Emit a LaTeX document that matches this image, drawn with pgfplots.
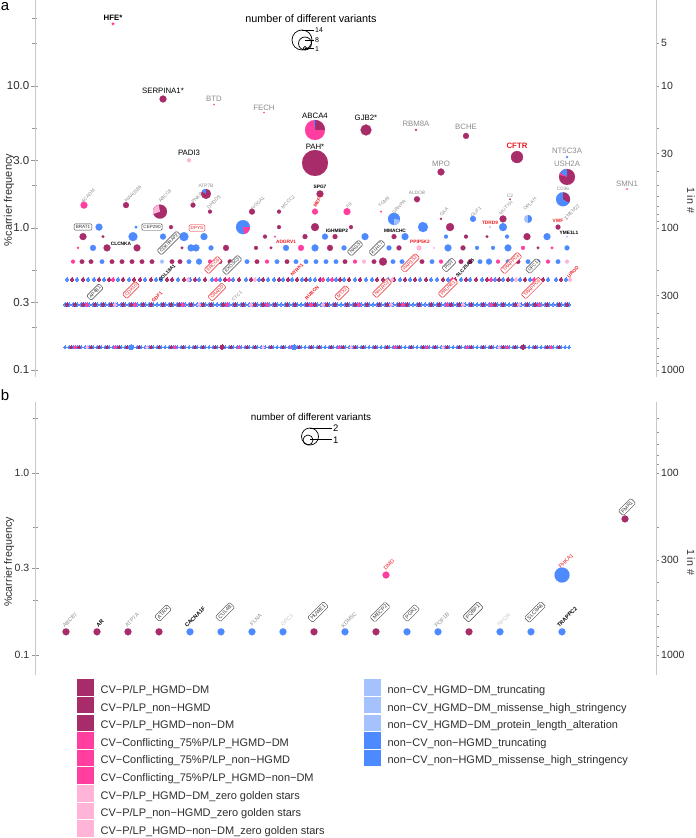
\documentclass[border=0pt]{standalone}
\usepackage{fontspec}
\setmainfont{Liberation Sans}
\usepackage{pgfplots}
\pgfplotsset{compat=1.18}
\usepackage{pgfplotstable}

\definecolor{dmc}{RGB}{168,44,106}
\definecolor{pkc}{RGB}{255,62,160}
\definecolor{lpc}{RGB}{255,180,216}
\definecolor{lbc}{RGB}{165,194,255}
\definecolor{blc}{RGB}{78,138,255}
\definecolor{axgray}{RGB}{200,200,200}
\definecolor{tkgray}{RGB}{150,150,150}
\definecolor{txtgray}{RGB}{45,45,45}
\definecolor{lblgray}{RGB}{140,140,140}
\definecolor{lgtgray}{RGB}{200,200,200}
\definecolor{lblred}{RGB}{236,28,36}

% pie-slice marks (start angle, end angle)
\newcommand\defwedge[3]{\pgfdeclareplotmark{#1}{%
  \pgfpathmoveto{\pgfpointorigin}%
  \pgfpathlineto{\pgfpointpolar{#2}{\pgfplotmarksize}}%
  \pgfpatharc{#2}{#3}{\pgfplotmarksize}%
  \pgfpathclose\pgfusepathqfill}}
\defwedge{wA}{0}{90}
\defwedge{wAb}{90}{97}
\defwedge{wU}{90}{150}
\defwedge{wUp}{150}{165}
\defwedge{wC}{-30}{90}
\defwedge{wS}{100}{200}
\defwedge{wT}{90}{150}
\defwedge{wK}{-80}{0}
\defwedge{wG}{-90}{-10}
\defwedge{wO}{-90}{90}

\pgfplotstableread{
x y r
163 8.1 3.5
315 2.87 13
366 4.9 5.5
416 4.9 1
466 4.45 3
517 3.16 6
567 2.29 8
441 2.48 3.5
206 1.739 5
320 1.739 3.5
417 1.594 3
510 1.594 0.8
126 1.449 3
193 1.449 2.5
160 1.304 7
210 1.304 2
252 1.304 3
279 1.304 2
441 1.159 1.2
503 1.159 3.5
171 1.0145 2
279 1.0145 2
315 1.0145 4
351 1.0145 2
450 1.0145 4
558 1.0145 2.5
83 0.8696 3.5
103 0.8696 1.5
265 0.8696 2
305 0.8696 2.5
335 0.8696 2.5
394 0.8696 2.5
466 0.8696 2
487 0.8696 1.5
527 0.8696 3.5
107 0.7246 3.5
137 0.7246 3.5
182 0.7246 1.5
226 0.7246 3
256 0.7246 2
271 0.7246 1.5
330 0.7246 3
399 0.7246 2.5
463 0.7246 2.5
538 0.7246 1.5
82 0.5797 2.3
91 0.5797 2.3
112 0.5797 2.3
122 0.5797 2.3
132 0.5797 2.3
142 0.5797 2.3
152 0.5797 2.3
172 0.5797 2.3
180 0.5797 2.3
220 0.5797 2.3
230 0.5797 2.3
257 0.5797 2.3
287 0.5797 2.3
345 0.5797 2.3
374 0.5797 2.3
383 0.5797 4
422 0.5797 2.3
461 0.5797 2.3
470 0.5797 2.3
518 0.5797 2.3
}\dmA
\pgfplotstableread{
x y r
113 27.4 1.5
214 7.4 0.8
264 6.5 0.8
315 4.9 10
627 1.88 0.8
84 1.449 3.5
315 1.304 3
347 1.304 3.5
381 1.304 1
275 0.8696 1
78 0.7246 1.2
301 0.7246 3
355 0.7246 1.5
523 0.7246 2
552 0.7246 1.5
73 0.5797 2
210 0.5797 2
267 0.5797 2
355 0.5797 2
441 0.5797 2
498 0.5797 2
548 0.5797 2
}\pkA
\pgfplotstableread{
x y r
189 3.0 2
567 1.159 1.2
419 0.7246 2.5
434 0.7246 1
364 0.5797 2
567 0.5797 2
}\lpA
\pgfplotstableread{
x y r
528 1.159 4
490 1.0145 1
567 0.8696 1
162 0.5797 2
}\lbA
\pgfplotstableread{
x y r
567 3.16 1.2
563 1.594 7
394 1.159 6
473 1.159 3
99 1.0145 3.5
136 1.0145 1.5
243 1.0145 7
423 1.0145 5
503 1.0145 4
133 0.8696 4.5
163 0.8696 3
184 0.8696 4.5
204 0.8696 3.5
325 0.8696 3
365 0.8696 3.5
405 0.8696 3.5
446 0.8696 2
507 0.8696 2
547 0.8696 3.5
93 0.7246 3
191 0.7246 3.5
196 0.7246 3.5
211 0.7246 2.5
286 0.7246 3
315 0.7246 3.5
344 0.7246 2.5
389 0.7246 2.5
448 0.7246 3.5
477 0.7246 2
493 0.7246 2
508 0.7246 3.5
567 0.7246 2.5
102 0.5797 2.3
189 0.5797 2.3
199 0.5797 3
247 0.5797 2.3
277 0.5797 2.3
296 0.5797 2.3
306 0.5797 2.3
316 0.5797 2.3
326 0.5797 2.3
336 0.5797 2.3
393 0.5797 2.3
402 0.5797 2.3
412 0.5797 2.3
432 0.5797 2.3
450 0.5797 2.3
480 0.5797 2.3
489 0.5797 3
508 0.5797 2.3
528 0.5797 2.3
538 0.5797 2.3
558 0.5797 2.3
}\blA
\pgfplotstableread{
x y r
66 0.134 3.5
97 0.134 3.5
128 0.134 3.5
159 0.134 3.5
314 0.134 3.5
376 0.134 3.5
469 0.134 3.5
625 0.559 3.5
}\dmB
\pgfplotstableread{
x y r
190 0.134 3.5
221 0.134 3.5
252 0.134 3.5
283 0.134 3.5
345 0.134 3.5
407 0.134 3.5
438 0.134 3.5
500 0.134 3.5
531 0.134 3.5
562 0.134 3.5
562 0.275 7.5
}\blB
\pgfplotstableread{
x y r
386 0.275 3.5
}\pkB

\pgfplotsset{
  mydots/.style={only marks, mark=*, mark size=#1, mark options={line width=0pt}},
  mybub/.style={scatter, only marks, mark=*,
     scatter/use mapped color={draw=#1,fill=#1},
     visualization depends on={\thisrow{r}\as\rr},
     scatter/@pre marker code/.append style={/tikz/mark size=\rr pt},
     mark options={line width=0.1pt}},
}
\tikzset{
  tl/.style={font=\fontsize{7.8}{8}\selectfont, inner sep=0pt, text=black},
  tlb/.style={font=\fontsize{7.8}{8}\selectfont\bfseries, inner sep=0pt, text=black},
  sl/.style={font=\fontsize{4.8}{5}\selectfont, inner sep=0pt, text=lblgray},
  slb/.style={font=\fontsize{4.8}{5}\selectfont\bfseries, inner sep=0pt, text=black},
  slr/.style={font=\fontsize{4.8}{5}\selectfont\bfseries, inner sep=0pt, text=lblred},
  bx/.style={font=\fontsize{4.6}{5}\selectfont, draw=black!75, rounded corners=1.2pt, inner sep=1.6pt, line width=0.45pt, text=black!80, fill=white},
  rbx/.style={font=\fontsize{4.6}{5}\selectfont, draw=lblred, rounded corners=1.2pt, inner sep=1.6pt, line width=0.45pt, text=lblred, fill=white},
  bl5/.style={font=\fontsize{5.5}{6}\selectfont, inner sep=0pt, text=lblgray},
  bb5/.style={font=\fontsize{5.5}{6}\selectfont\bfseries, inner sep=0pt, text=black},
  bx5/.style={font=\fontsize{5.2}{6}\selectfont, draw=black!75, rounded corners=1.3pt, inner sep=1.8pt, line width=0.45pt, text=black!80},
}

\begin{document}
\begin{tikzpicture}
\useasboundingbox (0,0) rectangle (696pt,838pt);

% ================= PANEL A =================
\begin{axis}[scale only axis, anchor=south west, width=621pt, xmin=35, xmax=656,
  at={(35pt,461pt)}, height=377pt, ymode=log, ymin=0.0893, ymax=40.33,
  axis x line=none, axis y line*=left,
  axis line style={draw=axgray, line width=0.8pt},
  tick style={draw=tkgray, line width=0.6pt}, tick align=center,
  major tick length=7pt, minor tick length=5pt,
  ytick={0.1,0.3,1,3,10}, yticklabels={0.1,0.3,1.0,3.0,10.0},
  minor ytick={0.2,0.5,2,5,20,30},
  yticklabel style={text=txtgray, inner sep=0pt, xshift=-2pt, font=\fontsize{11.5}{12}\selectfont}]
\addplot[mydots=1.5pt, blc] coordinates {(65,0.145)(69,0.145)(73,0.145)(77,0.145)(81,0.145)(85,0.145)(89,0.145)(93,0.145)(97,0.145)(101,0.145)(105,0.145)(109,0.145)(113,0.145)(117,0.145)(121,0.145)(125,0.145)(129,0.145)(133,0.145)(137,0.145)(141,0.145)(145,0.145)(149,0.145)(153,0.145)(157,0.145)(161,0.145)(165,0.145)(169,0.145)(173,0.145)(177,0.145)(181,0.145)(185,0.145)(189,0.145)(193,0.145)(197,0.145)(201,0.145)(205,0.145)(209,0.145)(213,0.145)(217,0.145)(221,0.145)(225,0.145)(229,0.145)(233,0.145)(237,0.145)(241,0.145)(245,0.145)(249,0.145)(253,0.145)(257,0.145)(261,0.145)(265,0.145)(269,0.145)(273,0.145)(277,0.145)(281,0.145)(285,0.145)(289,0.145)(293,0.145)(297,0.145)(301,0.145)(305,0.145)(309,0.145)(313,0.145)(317,0.145)(321,0.145)(325,0.145)(329,0.145)(333,0.145)(337,0.145)(341,0.145)(345,0.145)(349,0.145)(353,0.145)(357,0.145)(361,0.145)(365,0.145)(369,0.145)(373,0.145)(377,0.145)(381,0.145)(385,0.145)(389,0.145)(393,0.145)(397,0.145)(401,0.145)(405,0.145)(409,0.145)(413,0.145)(417,0.145)(421,0.145)(425,0.145)(429,0.145)(433,0.145)(437,0.145)(441,0.145)(445,0.145)(449,0.145)(453,0.145)(457,0.145)(461,0.145)(465,0.145)(469,0.145)(473,0.145)(477,0.145)(481,0.145)(485,0.145)(489,0.145)(493,0.145)(497,0.145)(501,0.145)(505,0.145)(509,0.145)(513,0.145)(517,0.145)(521,0.145)(525,0.145)(529,0.145)(533,0.145)(537,0.145)(541,0.145)(545,0.145)(549,0.145)(553,0.145)(557,0.145)(561,0.145)(565,0.145)(569,0.145)};
\addplot[mydots=1.5pt, dmc] coordinates {(71,0.145)(79,0.145)(91,0.145)(99,0.145)(107,0.145)(119,0.145)(127,0.145)(139,0.145)(151,0.145)(159,0.145)(171,0.145)(183,0.145)(195,0.145)(203,0.145)(215,0.145)(231,0.145)(247,0.145)(255,0.145)(271,0.145)(283,0.145)(299,0.145)(311,0.145)(319,0.145)(331,0.145)(343,0.145)(355,0.145)(363,0.145)(375,0.145)(387,0.145)(399,0.145)(411,0.145)(423,0.145)(435,0.145)(447,0.145)(459,0.145)(471,0.145)(483,0.145)(491,0.145)(503,0.145)(515,0.145)(535,0.145)(547,0.145)(559,0.145)};
\addplot[mydots=1.5pt, pkc] coordinates {(75,0.145)(115,0.145)(175,0.145)(239,0.145)(291,0.145)(339,0.145)(395,0.145)(427,0.145)(467,0.145)(507,0.145)(551,0.145)};
\addplot[mydots=1.5pt, lpc] coordinates {(87,0.145)(147,0.145)(263,0.145)(351,0.145)(443,0.145)(499,0.145)};
\addplot[mydots=2.5pt, blc] coordinates {(131,0.145)(294,0.145)};
\addplot[mydots=2.2pt, dmc] coordinates {(222,0.145)(523,0.145)};
\addplot[mydots=1.7pt, blc] coordinates {(65,0.29)(69,0.29)(73,0.29)(77,0.29)(81,0.29)(85,0.29)(89,0.29)(93,0.29)(97,0.29)(101,0.29)(105,0.29)(109,0.29)(113,0.29)(117,0.29)(121,0.29)(125,0.29)(129,0.29)(133,0.29)(137,0.29)(141,0.29)(145,0.29)(149,0.29)(153,0.29)(157,0.29)(161,0.29)(165,0.29)(169,0.29)(173,0.29)(177,0.29)(181,0.29)(185,0.29)(189,0.29)(193,0.29)(197,0.29)(201,0.29)(205,0.29)(209,0.29)(213,0.29)(217,0.29)(221,0.29)(225,0.29)(229,0.29)(233,0.29)(237,0.29)(241,0.29)(245,0.29)(249,0.29)(253,0.29)(257,0.29)(261,0.29)(265,0.29)(269,0.29)(273,0.29)(277,0.29)(281,0.29)(285,0.29)(289,0.29)(293,0.29)(297,0.29)(301,0.29)(305,0.29)(309,0.29)(313,0.29)(317,0.29)(321,0.29)(325,0.29)(329,0.29)(333,0.29)(337,0.29)(341,0.29)(345,0.29)(349,0.29)(353,0.29)(357,0.29)(361,0.29)(365,0.29)(369,0.29)(373,0.29)(377,0.29)(381,0.29)(385,0.29)(389,0.29)(393,0.29)(397,0.29)(401,0.29)(405,0.29)(409,0.29)(413,0.29)(417,0.29)(421,0.29)(425,0.29)(429,0.29)(433,0.29)(437,0.29)(441,0.29)(445,0.29)(449,0.29)(453,0.29)(457,0.29)(461,0.29)(465,0.29)(469,0.29)(473,0.29)(477,0.29)(481,0.29)(485,0.29)(489,0.29)(493,0.29)(497,0.29)(501,0.29)(505,0.29)(509,0.29)(513,0.29)(517,0.29)(521,0.29)(525,0.29)(529,0.29)(533,0.29)(537,0.29)(541,0.29)(545,0.29)(549,0.29)(553,0.29)(557,0.29)(561,0.29)(565,0.29)(569,0.29)};
\addplot[mydots=1.7pt, dmc] coordinates {(67,0.29)(75,0.29)(83,0.29)(95,0.29)(103,0.29)(111,0.29)(123,0.29)(131,0.29)(143,0.29)(151,0.29)(163,0.29)(171,0.29)(179,0.29)(191,0.29)(203,0.29)(211,0.29)(223,0.29)(235,0.29)(243,0.29)(255,0.29)(263,0.29)(275,0.29)(287,0.29)(295,0.29)(307,0.29)(315,0.29)(327,0.29)(335,0.29)(347,0.29)(355,0.29)(367,0.29)(379,0.29)(387,0.29)(399,0.29)(407,0.29)(419,0.29)(431,0.29)(439,0.29)(451,0.29)(459,0.29)(471,0.29)(483,0.29)(495,0.29)(503,0.29)(515,0.29)(527,0.29)(535,0.29)(547,0.29)(559,0.29)(567,0.29)};
\addplot[mydots=1.7pt, pkc] coordinates {(87,0.29)(135,0.29)(183,0.29)(227,0.29)(267,0.29)(311,0.29)(359,0.29)(403,0.29)(447,0.29)(491,0.29)(539,0.29)};
\addplot[mydots=1.7pt, lpc] coordinates {(115,0.29)(199,0.29)(251,0.29)(323,0.29)(391,0.29)(463,0.29)(519,0.29)};
\addplot[mydots=1.9pt, blc] coordinates {(67,0.4348)(77,0.4348)(88,0.4348)(94,0.4348)(104,0.4348)(118,0.4348)(129,0.4348)(145,0.4348)(156,0.4348)(161,0.4348)(178,0.4348)(190,0.4348)(199,0.4348)(212,0.4348)(220,0.4348)(233,0.4348)(246,0.4348)(259,0.4348)(268,0.4348)(274,0.4348)(283,0.4348)(292,0.4348)(302,0.4348)(310,0.4348)(315,0.4348)(328,0.4348)(336,0.4348)(344,0.4348)(355,0.4348)(366,0.4348)(372,0.4348)(388,0.4348)(400,0.4348)(410,0.4348)(420,0.4348)(431,0.4348)(437,0.4348)(448,0.4348)(461,0.4348)(470,0.4348)(482,0.4348)(495,0.4348)(503,0.4348)(512,0.4348)(520,0.4348)(530,0.4348)(538,0.4348)(548,0.4348)(556,0.4348)(566,0.4348)};
\addplot[mydots=1.9pt, dmc] coordinates {(72,0.4348)(83,0.4348)(99,0.4348)(109,0.4348)(123,0.4348)(134,0.4348)(140,0.4348)(151,0.4348)(167,0.4348)(172,0.4348)(184,0.4348)(195,0.4348)(205,0.4348)(225,0.4348)(239,0.4348)(251,0.4348)(263,0.4348)(279,0.4348)(288,0.4348)(297,0.4348)(306,0.4348)(320,0.4348)(340,0.4348)(349,0.4348)(360,0.4348)(377,0.4348)(383,0.4348)(394,0.4348)(405,0.4348)(415,0.4348)(426,0.4348)(443,0.4348)(455,0.4348)(466,0.4348)(476,0.4348)(487,0.4348)(499,0.4348)(508,0.4348)(525,0.4348)(543,0.4348)(561,0.4348)};
\addplot[mydots=1.9pt, pkc] coordinates {(113,0.4348)(216,0.4348)(229,0.4348)(323,0.4348)(332,0.4348)(452,0.4348)(491,0.4348)(534,0.4348)};
\addplot[mydots=1.9pt, lpc] coordinates {(188,0.4348)(255,0.4348)(392,0.4348)(516,0.4348)(570,0.4348)};
\addplot[mybub=blc] table[x=x,y=y] {\blA};
\addplot[mybub=lbc] table[x=x,y=y] {\lbA};
\addplot[mybub=dmc] table[x=x,y=y] {\dmA};
\addplot[mybub=pkc] table[x=x,y=y] {\pkA};
\addplot[mybub=lpc] table[x=x,y=y] {\lpA};
% second slices of the larger pies
\addplot[only marks, mark=wA, mark size=10pt, dmc] coordinates {(315,4.9)};
\addplot[only marks, mark=wAb, mark size=10pt, blc] coordinates {(315,4.9)};
\addplot[only marks, mark=wU, mark size=8pt, blc] coordinates {(567,2.29)};
\addplot[only marks, mark=wUp, mark size=8pt, pkc] coordinates {(567,2.29)};
\addplot[only marks, mark=wC, mark size=7pt, dmc] coordinates {(563,1.594)};
\addplot[only marks, mark=wS, mark size=7pt, lpc] coordinates {(160,1.304)};
\addplot[only marks, mark=wT, mark size=5pt, blc] coordinates {(206,1.739)};
\addplot[only marks, mark=wK, mark size=7pt, pkc] coordinates {(243,1.0145)};
\addplot[only marks, mark=wG, mark size=6pt, lbc] coordinates {(394,1.159)};
\addplot[only marks, mark=wO, mark size=4pt, blc] coordinates {(528,1.159)};
\addplot[only marks, mark=wT, mark size=5pt, blc] coordinates {(423,1.0145)};
\addplot[only marks, mark=wC, mark size=4pt, dmc] coordinates {(450,1.0145)};
\end{axis}

% right scale of panel a (1 in #)
\begin{axis}[scale only axis, anchor=south west, width=621pt, xmin=35, xmax=656,
  at={(35pt,461pt)}, height=377pt, ymode=log, y dir=reverse, ymin=2.48, ymax=1120,
  axis x line=none, axis y line*=right,
  axis line style={draw=axgray, line width=0.8pt},
  tick style={draw=tkgray, line width=0.6pt}, tick align=outside,
  major tick length=3pt, minor tick length=3pt,
  ytick={5,10,30,100,300,1000}, yticklabels={5,10,30,100,300,1000},
  minor ytick={20,40,50,60,70,80,90,200,400,500,600,700,800,900},
  yticklabel style={text=txtgray, inner sep=0pt, xshift=2pt, font=\fontsize{10.5}{11}\selectfont}]
\addplot[draw=none] coordinates {(40,10)};
\end{axis}

% pixel-coordinate overlay for panel a
\begin{axis}[scale only axis, anchor=south west, width=621pt, xmin=35, xmax=656,
  at={(35pt,461pt)}, height=377pt, ymin=0, ymax=377, y dir=reverse, hide axis, clip=false]
\addplot[only marks, mark=o, mark size=10pt, mark options={line width=0.7pt}, black] coordinates {(302,40)};
\addplot[only marks, mark=o, mark size=6.5pt, mark options={line width=0.7pt}, black] coordinates {(305,43.5)};
\addplot[only marks, mark=o, mark size=1.8pt, mark options={line width=0.7pt}, black] coordinates {(305,48.2)};
\addplot[black, line width=0.6pt] coordinates {(302,30)(314,30)};
\addplot[black, line width=0.6pt] coordinates {(305,40)(314,40)};
\addplot[black, line width=0.6pt] coordinates {(305,48.5)(314,48.5)};
\node[font=\fontsize{7}{7}\selectfont, anchor=west, inner sep=0pt] at (315,30) {14};
\node[font=\fontsize{7}{7}\selectfont, anchor=west, inner sep=0pt] at (315,40) {8};
\node[font=\fontsize{7}{7}\selectfont, anchor=west, inner sep=0pt] at (315,49) {1};
\node[font=\fontsize{10.8}{11}\selectfont] at (311,19) {number of different variants};
\node[font=\fontsize{15}{15}\selectfont] at (5,7) {a};
\node[font=\fontsize{11}{11}\selectfont, rotate=90, text=txtgray] at (9,200) {\%carrier frequency};
\node[font=\fontsize{10.6}{11}\selectfont, rotate=-90, text=txtgray] at (691,200) {1 in \#};
\node[tlb] at (113,18) {HFE*};
\node[tl] at (163,91) {SERPINA1*};
\node[tl,text=lblgray] at (214,99) {BTD};
\node[tl,text=lblgray] at (264,108) {FECH};
\node[tl] at (315,116) {ABCA4};
\node[tl] at (315,147) {PAH*};
\node[tl] at (189,153) {PADI3};
\node[tl] at (366,118) {GJB2*};
\node[tl,text=lblgray] at (416,124) {RBM8A};
\node[tl,text=lblgray] at (466,127) {BCHE};
\node[tlb,text=lblred] at (517,146) {CFTR};
\node[tl,text=lblgray] at (567,151) {NT5C3A};
\node[tl,text=lblgray] at (567,164) {USH2A};
\node[tl,text=lblgray] at (441,164) {MPO};
\node[tl,text=lblgray] at (627,184) {SMN1};
\node[sl,rotate=45] at (88,196) {ACADM};
\node[sl,rotate=45] at (133,194) {KIAA0586};
\node[sl,rotate=45] at (165,196) {ABCC8};
\node[sl,rotate=45] at (197,198) {PNKP};
\node[sl,rotate=45] at (214,202) {DHDDS};
\node[sl,rotate=45] at (258,203) {HOGA1};
\node[sl,rotate=45] at (288,202) {MCCC2};
\node[sl,rotate=45] at (349,205) {F9};
\node[sl,rotate=45] at (384,202) {TGM6};
\node[sl,rotate=45] at (399,207) {GRHPR};
\node[sl,rotate=45] at (444,212) {GAA};
\node[sl,rotate=45] at (476,212) {GUF1};
\node[sl,rotate=45] at (506,208) {MUTYH};
\node[sl,rotate=45] at (530,204) {OPLAH};
\node[sl,rotate=45] at (572,212) {TMEM22};
\node[sl] at (206,186) {ATP7B};
\node[sl] at (417,193) {ALDOB};
\node[sl] at (510,196) {C2};
\node[sl] at (563,189) {CD36};
\node[slb] at (320,187) {SPG7};
\node[slr,rotate=60] at (318,201) {MEFV};
\node[slb] at (121,244) {CLCNKA};
\node[slb] at (337,231) {IGHMBP2};
\node[slb] at (395,231) {MMACHC};
\node[slb] at (569,233) {YME1L1};
\node[slr] at (286,242) {ADGRV1};
\node[slr] at (420,242) {PPIP5K2};
\node[slr] at (490,223) {TDRD9};
\node[slr] at (558,221) {VWF};
\node[slb,rotate=45] at (167,273) {COL18A1};
\node[slb,rotate=45] at (465,268) {SLC25A15};
\node[slr,rotate=45] at (297,270) {NTRK1};
\node[slr,rotate=45] at (157,297) {GDF1};
\node[slr,rotate=45] at (312,293) {RUBCN};
\node[slr,rotate=45] at (573,272) {UROD};
\node[sl,rotate=45] at (237,296) {CTC1};
\node[bx] at (83,227) {BRAT1};
\node[bx] at (152,227) {CEP290};
\node[rbx] at (197,228) {DPYS};
\node[bx,rotate=45] at (169,243) {CDK5RAP2};
\node[bx,rotate=45] at (232,265) {EXOSC3};
\node[bx,rotate=45] at (95,292) {AP4B1};
\node[bx,rotate=45] at (355,248) {NAGS};
\node[bx,rotate=45] at (377,248) {KLHL7};
\node[bx,rotate=45] at (449,265) {PIGT};
\node[bx,rotate=45] at (533,266) {UFC1};
\node[rbx,rotate=45] at (213,265) {ERCC6};
\node[rbx,rotate=45] at (131,290) {CDK10};
\node[rbx,rotate=45] at (217,292) {CRADD};
\node[rbx,rotate=45] at (342,293) {MTX2};
\node[rbx,rotate=45] at (382,288) {NHLRC2};
\node[rbx,rotate=45] at (410,263) {PAPSS2};
\node[rbx,rotate=45] at (448,288) {PRUNE1};
\node[rbx,rotate=45] at (511,263) {TRAPPC4};
\node[rbx,rotate=45] at (532,288) {TRAPPC9};
\end{axis}

% ================= PANEL B =================
\begin{axis}[scale only axis, anchor=south west, width=621pt, xmin=35, xmax=656,
  at={(35pt,163pt)}, height=273pt, ymode=log, ymin=0.0776, ymax=2.455,
  axis x line=none, axis y line*=left,
  axis line style={draw=axgray, line width=0.8pt},
  tick style={draw=tkgray, line width=0.6pt}, tick align=center,
  major tick length=7pt, minor tick length=5pt,
  ytick={0.1,0.3,1}, yticklabels={0.1,0.3,1.0},
  minor ytick={0.2,0.5,2},
  yticklabel style={text=txtgray, inner sep=0pt, xshift=-2pt, font=\fontsize{10.5}{11}\selectfont}]
\addplot[mybub=blc] table[x=x,y=y] {\blB};
\addplot[mybub=dmc] table[x=x,y=y] {\dmB};
\addplot[mybub=pkc] table[x=x,y=y] {\pkB};
\end{axis}

\begin{axis}[scale only axis, anchor=south west, width=621pt, xmin=35, xmax=656,
  at={(35pt,163pt)}, height=273pt, ymode=log, y dir=reverse, ymin=40.73, ymax=1288.7,
  axis x line=none, axis y line*=right,
  axis line style={draw=axgray, line width=0.8pt},
  tick style={draw=tkgray, line width=0.6pt}, tick align=outside,
  major tick length=3pt, minor tick length=3pt,
  ytick={100,300,1000}, yticklabels={100,300,1000},
  minor ytick={50,60,70,80,90,200,400,500,600,700,800,900},
  yticklabel style={text=txtgray, inner sep=0pt, xshift=2pt, font=\fontsize{10.5}{11}\selectfont}]
\addplot[draw=none] coordinates {(40,100)};
\end{axis}

\begin{axis}[scale only axis, anchor=south west, width=621pt, xmin=35, xmax=656,
  at={(35pt,163pt)}, height=273pt, ymin=402, ymax=675, y dir=reverse, hide axis, clip=false]
\addplot[only marks, mark=o, mark size=8.5pt, mark options={line width=0.7pt}, black] coordinates {(310,436.5)};
\addplot[only marks, mark=o, mark size=5pt, mark options={line width=0.7pt}, black] coordinates {(308,440)};
\addplot[black, line width=0.6pt] coordinates {(310,428.5)(332,428.5)};
\addplot[black, line width=0.6pt] coordinates {(310,439.5)(332,439.5)};
\node[font=\fontsize{9.5}{10}\selectfont, anchor=west, inner sep=0pt] at (333,428.5) {2};
\node[font=\fontsize{9.5}{10}\selectfont, anchor=west, inner sep=0pt] at (333,440) {1};
\node[font=\fontsize{9.9}{10}\selectfont] at (311,417) {number of different variants};
\node[font=\fontsize{15}{15}\selectfont] at (5,395) {b};
\node[font=\fontsize{10.7}{11}\selectfont, rotate=90, text=txtgray] at (9,562) {\%carrier frequency};
\node[font=\fontsize{10.6}{11}\selectfont, rotate=-90, text=txtgray] at (691,562) {1 in \#};
\node[bl5,rotate=45] at (70,620) {ABCB7};
\node[bb5,rotate=45] at (100,623) {AR};
\node[bl5,rotate=45] at (132,620) {ATP7A};
\node[bx5,rotate=45] at (163,613) {ATRX};
\node[bb5,rotate=45] at (195,617) {CACNA1F};
\node[bx5,rotate=45] at (225,612) {CUL4B};
\node[bl5,rotate=45] at (256,620) {FLNA};
\node[bl5,rotate=45,text=lgtgray] at (287,620) {GPC3};
\node[bx5,rotate=45] at (318,612) {HUWE1};
\node[bl5,rotate=45] at (349,620) {KDM5C};
\node[bx5,rotate=45] at (380,612) {MECP2};
\node[bx5,rotate=45] at (411,613) {PGK1};
\node[bl5,rotate=45] at (442,620) {POF1B};
\node[bx5,rotate=45] at (473,612) {PQBP1};
\node[bl5,rotate=45,text=lgtgray] at (504,620) {RPGR};
\node[bx5,rotate=45] at (535,612) {SLC9A6};
\node[bb5,rotate=45] at (567,617) {TRAPPC2};
\node[bx5,rotate=45] at (627,507) {FMR1};
\node[bl5,rotate=45,text=lblred] at (389,565) {DMD};
\node[bl5,rotate=45,text=lblred] at (566,561) {PHKA1};
\end{axis}

% ================= LEGEND =================
\begin{axis}[scale only axis, anchor=south west, width=5pt, height=5pt, hide axis,
  xmin=0, xmax=1, ymin=0, ymax=1, at={(77pt,159pt)},
  legend style={at={(0,0)}, anchor=north west, draw=none, fill=none, inner sep=0pt,
    row sep=1pt, column sep=7pt, font=\fontsize{11}{13}\selectfont,
    nodes={inner sep=0pt, text=txtgray, text height=8pt, text depth=2.5pt}},
  legend cell align=left,
  legend image code/.code={\fill[#1] (0pt,-4.4pt) rectangle (16pt,11.2pt);}]
\addlegendimage{dmc}\addlegendentry{CV−P/LP\_HGMD−DM}
\addlegendimage{dmc}\addlegendentry{CV−P/LP\_non−HGMD}
\addlegendimage{dmc}\addlegendentry{CV−P/LP\_HGMD−non−DM}
\addlegendimage{pkc}\addlegendentry{CV−Conflicting\_75\%P/LP\_HGMD−DM}
\addlegendimage{pkc}\addlegendentry{CV−Conflicting\_75\%P/LP\_non−HGMD}
\addlegendimage{pkc}\addlegendentry{CV−Conflicting\_75\%P/LP\_HGMD−non−DM}
\addlegendimage{lpc}\addlegendentry{CV−P/LP\_HGMD−DM\_zero golden stars}
\addlegendimage{lpc}\addlegendentry{CV−P/LP\_non−HGMD\_zero golden stars}
\addlegendimage{lpc}\addlegendentry{CV−P/LP\_HGMD−non−DM\_zero golden stars}
\end{axis}
\begin{axis}[scale only axis, anchor=south west, width=5pt, height=5pt, hide axis,
  xmin=0, xmax=1, ymin=0, ymax=1, at={(364pt,159pt)},
  legend style={at={(0,0)}, anchor=north west, draw=none, fill=none, inner sep=0pt,
    row sep=1pt, column sep=7pt, font=\fontsize{11}{13}\selectfont,
    nodes={inner sep=0pt, text=txtgray, text height=8pt, text depth=2.5pt}},
  legend cell align=left,
  legend image code/.code={\fill[#1] (0pt,-4.4pt) rectangle (16pt,11.2pt);}]
\addlegendimage{lbc}\addlegendentry{non−CV\_HGMD−DM\_truncating}
\addlegendimage{lbc}\addlegendentry{non−CV\_HGMD−DM\_missense\_high\_stringency}
\addlegendimage{lbc}\addlegendentry{non−CV\_HGMD−DM\_protein\_length\_alteration}
\addlegendimage{blc}\addlegendentry{non−CV\_non−HGMD\_truncating}
\addlegendimage{blc}\addlegendentry{non−CV\_non−HGMD\_missense\_high\_stringency}
\end{axis}
\end{tikzpicture}
\end{document}
